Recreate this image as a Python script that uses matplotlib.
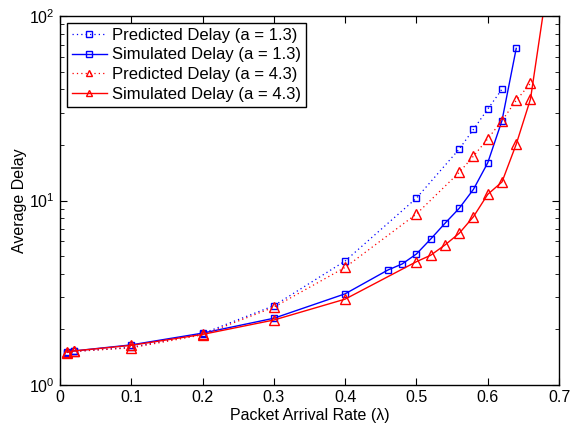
import matplotlib
matplotlib.use("Agg")
import matplotlib.pyplot as plt

plt.rcParams['font.family'] = ['Liberation Sans', 'DejaVu Sans']

# arrival rates
x_pred_a13 = [0.01, 0.02, 0.1, 0.2, 0.3, 0.4, 0.5, 0.56, 0.58, 0.6, 0.62]
y_pred_a13 = [1.50, 1.52, 1.60, 1.90, 2.69, 4.70, 10.3, 19.0, 24.3, 31.3, 40.1]

x_sim_a13 = [0.01, 0.02, 0.1, 0.2, 0.3, 0.4, 0.46, 0.48, 0.5, 0.52, 0.54,
             0.56, 0.58, 0.6, 0.62, 0.64]
y_sim_a13 = [1.51, 1.53, 1.65, 1.91, 2.30, 3.12, 4.20, 4.53, 5.13, 6.18, 7.52,
             9.07, 11.5, 16.0, 27.1, 66.8]

x_pred_a43 = [0.01, 0.02, 0.1, 0.2, 0.3, 0.4, 0.5, 0.56, 0.58, 0.6, 0.62,
              0.64, 0.66]
y_pred_a43 = [1.50, 1.52, 1.59, 1.87, 2.64, 4.34, 8.45, 14.2, 17.4, 21.6, 27.1,
              34.9, 43.2]

x_sim_a43 = [0.01, 0.02, 0.1, 0.2, 0.3, 0.4, 0.5, 0.52, 0.54, 0.56, 0.58,
             0.6, 0.62, 0.64, 0.66, 0.68]
y_sim_a43 = [1.51, 1.53, 1.64, 1.88, 2.25, 2.92, 4.66, 5.05, 5.74, 6.64, 8.17,
             10.8, 12.6, 20.2, 35.5, 118.0]

dots = (0, (1, 2.5))

fig = plt.figure(figsize=(5.71, 4.28), dpi=100)
ax = fig.add_axes([0.105, 0.1005, 0.874, 0.862])

ax.plot(x_pred_a13, y_pred_a13, linestyle=dots, color='blue', lw=0.9,
        marker='s', ms=5, mfc='none', mew=1, label='Predicted Delay (a = 1.3)')
ax.plot(x_sim_a13, y_sim_a13, '-', color='blue', lw=1, marker='s', ms=5,
        mfc='none', mew=1, label='Simulated Delay (a = 1.3)')
ax.plot(x_pred_a43, y_pred_a43, linestyle=dots, color='red', lw=0.9,
        marker='^', ms=6.5, mfc='none', mew=1, label='Predicted Delay (a = 4.3)')
ax.plot(x_sim_a43, y_sim_a43, '-', color='red', lw=1, marker='^', ms=6.5,
        mfc='none', mew=1, label='Simulated Delay (a = 4.3)')

ax.set_yscale('log')
ax.set_xlim(0, 0.7)
ax.set_ylim(1, 100)
ax.set_xticks([0, 0.1, 0.2, 0.3, 0.4, 0.5, 0.6, 0.7])
ax.set_xticklabels(['0', '0.1', '0.2', '0.3', '0.4', '0.5', '0.6', '0.7'])
ax.tick_params(which='both', direction='in', top=True, right=True,
               labelsize=11.5)
ax.tick_params(which='major', length=5)
ax.tick_params(which='minor', length=3)
for s in ax.spines.values():
    s.set_linewidth(1)

ax.set_xlabel('Packet Arrival Rate (λ)', fontsize=11.5, labelpad=2)
ax.set_ylabel('Average Delay', fontsize=11.5, labelpad=2)

leg = ax.legend(loc='upper left', fontsize=12, frameon=True, fancybox=False,
                edgecolor='black', framealpha=1, handlelength=2.1,
                handletextpad=0.3, borderpad=0.3, labelspacing=0.28,
                borderaxespad=0.4, markerscale=0.75)
leg.get_frame().set_linewidth(1)

fig.savefig('out.png', dpi=100)
